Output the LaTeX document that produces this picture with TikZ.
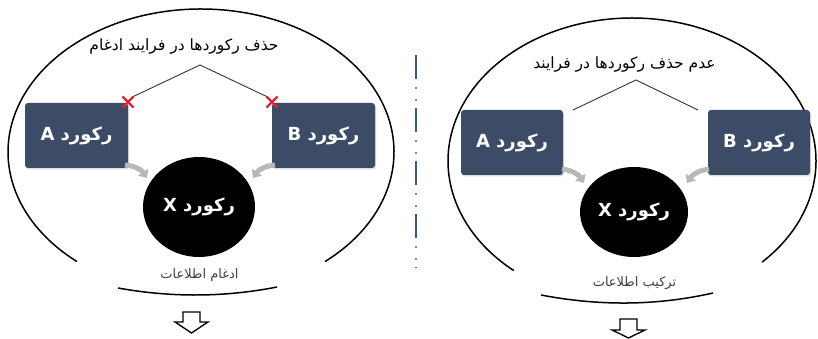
\documentclass[tikz,border=0pt]{standalone}
\usepackage{fontspec}
\setmainfont{DejaVu Sans}
\newfontfamily\fa[Script=Arabic]{DejaVu Sans}
\TeXXeTstate=1
\usetikzlibrary{shapes.misc,shapes.geometric,shadows,arrows.meta}
\definecolor{boxblue}{HTML}{3D4C66}
\definecolor{divblue}{HTML}{2F5F8A}
\definecolor{divdot}{HTML}{7F8C99}
\definecolor{arrgray}{HTML}{B8B8B8}
\definecolor{crossred}{HTML}{E3262E}
\definecolor{linegray}{HTML}{333333}
\tikzset{
  recbox/.style={fill=boxblue, rounded corners=3pt, minimum width=103pt, minimum height=65pt,
    inner sep=0pt, text=white, font=\fa\bfseries\fontsize{18}{20}\selectfont,
    drop shadow={opacity=0.25, shadow xshift=1pt, shadow yshift=-1.5pt}},
  recball/.style={ellipse, fill=black, inner sep=0pt, text=white,
    font=\fa\bfseries\fontsize{18}{20}\selectfont},
  titletext/.style={font=\fa\fontsize{15.5}{18}\selectfont, text=black, inner sep=0pt},
  subtext/.style={font=\fa\fontsize{13}{15}\selectfont, text=black!75, inner sep=0pt},
  ellline/.style={draw=black, line width=1.5pt},
  branch/.style={draw=linegray, line width=0.9pt},
  redx/.style={cross out, draw=crossred, line width=2.2pt, minimum size=9pt, inner sep=0pt},
  grayarrow/.style={draw=arrgray, line width=5pt, -{Triangle[length=7pt,width=12pt]}},
  downarrow/.style={draw=black, line width=1.3pt, line join=miter, fill=white},
}
\begin{document}
\begin{tikzpicture}[x=1pt,y=1pt]
\useasboundingbox (0,0) rectangle (818,339);
\fill[white] (0,0) rectangle (818,339);

% ================= LEFT PANEL =================
\draw[ellline] (201,187) ++(-50:193pt and 143pt)
  arc[start angle=-50, end angle=230, x radius=193pt, y radius=143pt];
\draw[ellline] (118,51) .. controls (171.7,41.3) and (224.7,41.7) .. (277,52);

\node[titletext] (titleL) at (184,292) {\beginR حذف رکوردها در فرایند ادغام\endR};
\coordinate (apexL) at (200,274);

\node[recbox] (boxAL) at (76.5,203.5) {\beginR رکورد A\endR};
\node[recbox] (boxBL) at (323.5,203.5) {\beginR رکورد B\endR};
\node[recball, minimum width=112pt, minimum height=100pt] (ballL) at (199,132) {\beginR رکورد X\endR};

\node[redx] (xAL) at (128,237) {};
\node[redx] (xBL) at (272,237) {};
\draw[branch] (apexL) -- (xAL.north east);
\draw[branch] (apexL) -- (xBL.north west);

\coordinate (gaL1) at (125,174);
\coordinate (gaL2) at (147,161);
\coordinate (gbL1) at (275,174);
\coordinate (gbL2) at (253,161);
\draw[grayarrow] (gaL1) to[bend left=25] (gaL2);
\draw[grayarrow] (gbL1) to[bend right=25] (gbL2);

\node[subtext] (subL) at (199.5,64) {\beginR ادغام اطلاعات\endR};
\draw[downarrow] (183,27) -- (200,27) -- (200,17) -- (208,17) -- (191.5,6) -- (175,17) -- (183,17) -- cycle;

% ================= DIVIDER =================
\draw[divblue, line width=2.6pt, dash pattern=on 24pt off 29pt] (416,284) -- (416,71);
\draw[divdot, line width=1.6pt, dash pattern=on 2pt off 10pt on 2pt off 39pt] (416,252) -- (416,71);

% ================= RIGHT PANEL =================
\draw[ellline] (632,178) ++(-45:184pt and 143pt)
  arc[start angle=-45, end angle=230, x radius=184pt, y radius=143pt];
\draw[ellline] (541,44) .. controls (599.7,32.7) and (657,33.3) .. (713,46);

\node[titletext] (titleR) at (624.5,274) {\beginR عدم حذف رکوردها در فرایند\endR};
\coordinate (apexR) at (636,259);

\node[recbox, minimum width=102pt] (boxAR) at (512,196.5) {\beginR رکورد A\endR};
\node[recbox, minimum width=102pt] (boxBR) at (759,196.5) {\beginR رکورد B\endR};
\node[recball, minimum width=108pt, minimum height=90pt] (ballR) at (634,127) {\beginR رکورد X\endR};

\coordinate (brA) at (573,229);
\coordinate (brB) at (698,229);
\draw[branch] (apexR) -- (brA);
\draw[branch] (apexR) -- (brB);

\coordinate (gaR1) at (562,170);
\coordinate (gaR2) at (584,156);
\coordinate (gbR1) at (709,170);
\coordinate (gbR2) at (687,156);
\draw[grayarrow] (gaR1) to[bend left=25] (gaR2);
\draw[grayarrow] (gbR1) to[bend right=25] (gbR2);

\node[subtext] (subR) at (634.5,56) {\beginR ترکیب اطلاعات\endR};
\draw[downarrow] (620,20) -- (637,20) -- (637,9) -- (645,9) -- (628.5,1) -- (612,9) -- (620,9) -- cycle;
\end{tikzpicture}
\end{document}
